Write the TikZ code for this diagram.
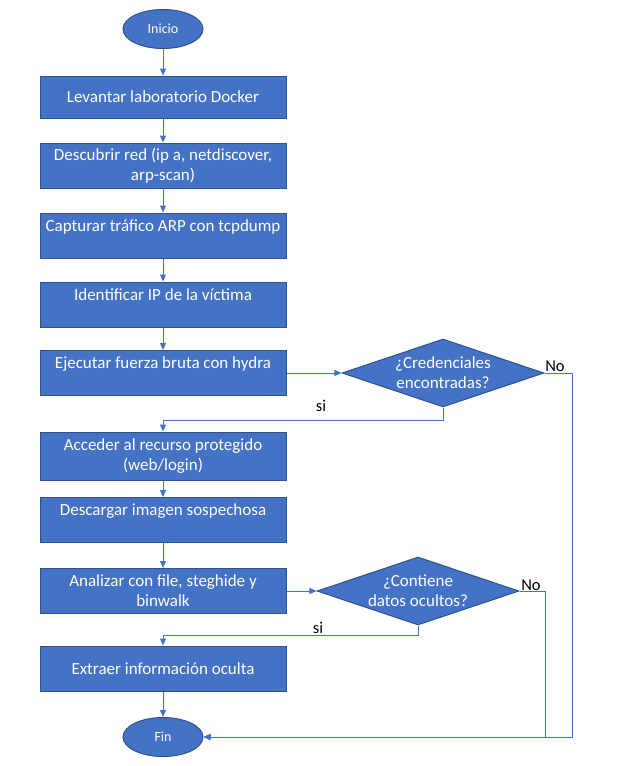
\documentclass[tikz,border=0pt]{standalone}
\usepackage{fontspec}
\setmainfont{Carlito}
\usetikzlibrary{arrows.meta}
\usetikzlibrary{shapes.geometric}
\definecolor{wordblue}{HTML}{4472C4}
\definecolor{wordedge}{HTML}{2F528F}

\begin{document}
\begin{tikzpicture}[x=1pt, y=-1pt,
    proc/.style={rectangle, draw=wordedge, fill=wordblue, line width=1pt, minimum width=246pt, minimum height=45pt, inner sep=0pt, text=white, align=center, font=\fontsize{17}{20}\selectfont},
    term/.style={ellipse, draw=wordedge, fill=wordblue, line width=1pt, minimum width=80pt, minimum height=39pt, inner sep=0pt, text=white, font=\fontsize{14}{16}\selectfont},
    decision/.style={diamond, draw=wordedge, fill=wordblue, line width=1pt, minimum width=202pt, minimum height=68pt, inner sep=0pt},
    dtext/.style={text=white, align=center, font=\fontsize{17}{20}\selectfont},
    flow/.style={draw=wordblue, line width=1pt, -{Triangle[length=7pt,width=6pt]}},
    tag/.style={font=\fontsize{16.5}{19}\selectfont}
  ]
    \useasboundingbox (0,0) rectangle (618,766);

    \node[term] (inicio) at (163,29) {Inicio};
    \node[proc, minimum height=42pt] (1) at (163,97) {Levantar laboratorio Docker};
    \node[proc] (2) at (163,165.5) {Descubrir red (ip a, netdiscover,\\arp-scan)};
    \node[proc] (3) at (163,235.5) {Capturar tráfico ARP con tcpdump\\~};
    \node[proc] (4) at (163,304.5) {Identificar IP de la víctima\\~};
    \node[proc] (5) at (163,373) {Ejecutar fuerza bruta con hydra\\~};
    \node[decision, label={[dtext]center:{¿Credenciales\\encontradas?}}] (d1) at (443,373) {};
    \node[proc, minimum height=48pt] (6) at (163,456) {Acceder al recurso protegido\\(web/login)};
    \node[proc] (7) at (163,520) {Descargar imagen sospechosa\\~};
    \node[proc] (8) at (163,591) {Analizar con file, steghide y\\binwalk};
    \node[decision, label={[dtext]center:{¿Contiene\\datos ocultos?}}] (d2) at (418,591) {};
    \node[proc] (9) at (163,668.5) {Extraer información oculta};
    \node[term] (fin) at (163,737) {Fin};

    \node[tag] (no1) at (555,366) {No};
    \node[tag] (si1) at (321,406) {si};
    \node[tag] (no2) at (531,585) {No};
    \node[tag] (si2) at (318,628) {si};

    \draw[flow] (inicio) -- (1);
    \draw[flow] (1) -- (2);
    \draw[flow] (2) -- (3);
    \draw[flow] (3) -- (4);
    \draw[flow] (4) -- (5);
    \draw[flow] (5) -- (d1);
    \draw[flow] (d1.south) -- ++(0,13) -| (6.north);
    \draw[flow] (d1.east) -- ++(28,0) |- (fin.east);
    \draw[flow] (6) -- (7);
    \draw[flow] (7) -- (8);
    \draw[flow] (8) -- (d2);
    \draw[flow] (d2.south) -- ++(0,10) -| (9.north);
    \draw[flow] (d2.east) -- ++(26,0) |- (fin.east);
    \draw[flow] (9) -- (fin);
  \end{tikzpicture}
\end{document}
